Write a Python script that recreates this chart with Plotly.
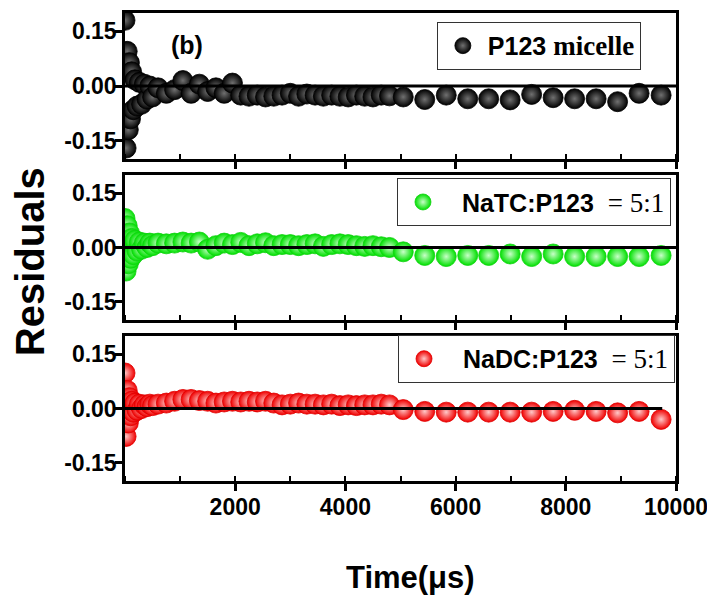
import plotly.graph_objects as go

# ---------------- data ----------------
time_us = [0, 20, 40, 60, 80, 100, 120, 150, 180, 220, 260, 300, 350, 400, 450, 500,
           600, 750, 900, 1050, 1200, 1350, 1500, 1650, 1800, 1950, 2100, 2250, 2400,
           2550, 2700, 2850, 3000, 3150, 3300, 3450, 3600, 3750, 3900, 4050, 4200, 4350,
           4500, 4650, 4800,
           5050, 5440, 5830, 6220, 6600, 6990, 7380, 7770, 8160, 8550, 8940, 9330, 9730]

res_p123 = [0.18, -0.17, 0.095, -0.12, 0.064, -0.09, 0.039, -0.065, 0.017, -0.055, 0.01,
            -0.05, 0.005, -0.036, 0.0, -0.03,
            -0.005, -0.02, -0.01, 0.015, -0.02, 0.005, -0.015, -0.005, -0.02, 0.008, -0.025,
            -0.028, -0.025, -0.03, -0.028, -0.025, -0.02, -0.028, -0.022, -0.025, -0.028,
            -0.025, -0.028, -0.03, -0.025, -0.028, -0.03, -0.025, -0.027,
            -0.030, -0.037, -0.025, -0.035, -0.035, -0.038, -0.023, -0.032, -0.035, -0.035,
            -0.043, -0.020, -0.025]

res_natc = [0.08, -0.065, 0.06, -0.045, 0.04, -0.03, 0.025, -0.02, 0.02, -0.01, 0.015,
            -0.005, 0.012, 0.0, 0.012, 0.005,
            0.012, 0.01, 0.012, 0.015, 0.012, 0.015, -0.005, 0.005, 0.012, 0.008, 0.014,
            0.005, 0.01, 0.013, 0.005, 0.008, 0.008, 0.005, 0.008, 0.01, 0.003, 0.008,
            0.01, 0.008, 0.005, 0.003, 0.005, 0.002, 0.0,
            -0.012, -0.022, -0.025, -0.022, -0.022, -0.018, -0.025, -0.018, -0.025, -0.025,
            -0.025, -0.025, -0.022]

res_nadc = [0.098, -0.077, 0.05, -0.04, 0.03, -0.02, 0.02, -0.01, 0.015, -0.005, 0.012,
            0.0, 0.01, 0.005, 0.012, 0.008,
            0.012, 0.015, 0.02, 0.025, 0.025, 0.022, 0.02, 0.015, 0.018, 0.02, 0.018,
            0.02, 0.018, 0.02, 0.015, 0.01, 0.012, 0.015, 0.012, 0.012, 0.01, 0.012,
            0.008, 0.01, 0.008, 0.01, 0.01, 0.012, 0.01,
            -0.003, -0.008, -0.010, -0.010, -0.010, -0.010, -0.010, -0.008, -0.005, -0.008,
            -0.012, -0.008, -0.030]

zero_x_full = [0, 10000]
zero_x_short = [0, 9750]
zero_y = [0, 0]

y_tick_vals = [-0.15, 0.0, 0.15]
y_tick_text = ["-0.15", "0.00", "0.15"]
x_tick_vals = [2000, 4000, 6000, 8000, 10000]
x_tick_text = ["2000", "4000", "6000", "8000", "10000"]

serif = "font-family:Liberation Serif;font-size:27px"
names = [
    f"<b>P123</b> <span style='{serif}'><b>micelle</b></span>",
    f"&nbsp;&nbsp;<b>NaTC:P123</b>&nbsp; <span style='{serif}'>= 5:1</span>",
    f"&nbsp;&nbsp;<b>NaDC:P123</b>&nbsp; <span style='{serif}'>= 5:1</span>",
]

# ---------------- figure ----------------
fig = go.Figure()

series = [
    (res_p123, "#000000", "#707070", "#000000", "x", "y", "legend", zero_x_full),
    (res_natc, "#00e000", "#c8ffc8", "#10d010", "x2", "y2", "legend2", zero_x_full),
    (res_nadc, "#f00000", "#ffc8c8", "#e00000", "x3", "y3", "legend3", zero_x_short),
]

for i, (vals, col, grad, edge, xa, ya, leg, zx) in enumerate(series):
    fig.add_trace(go.Scatter(
        x=time_us, y=vals, mode="markers", name=names[i],
        xaxis=xa, yaxis=ya, legend=leg,
        marker=dict(size=20, color=col,
                    gradient=dict(type="radial", color=grad),
                    line=dict(color=edge, width=0.8)),
    ))
    fig.add_trace(go.Scatter(
        x=zx, y=zero_y, mode="lines", showlegend=False,
        xaxis=xa, yaxis=ya, line=dict(color="black", width=3),
        hoverinfo="skip",
    ))

tick_font = dict(family="Liberation Sans, Arial, sans-serif", size=23, color="black", weight="bold")

def xaxis(show_labels, anchor):
    return dict(
        domain=[0, 1], range=[0, 10000], anchor=anchor, automargin=False,
        showline=True, linecolor="black", linewidth=2.5, mirror=True,
        ticks="outside", ticklen=7, tickwidth=2.5, tickcolor="black",
        tickvals=x_tick_vals, ticktext=x_tick_text, showticklabels=show_labels,
        tickfont=tick_font, showgrid=False, zeroline=False,
        ticklabeloverflow="allow", ticklabelstandoff=-3,
        minor=dict(ticks="inside", ticklen=5, tickwidth=1.5, tickcolor="black", dtick=1000),
    )

def yaxis(domain, anchor):
    return dict(
        domain=domain, range=[-0.2, 0.2], anchor=anchor, automargin=False,
        showline=True, linecolor="black", linewidth=2.5, mirror=True,
        ticks="outside", ticklen=7, tickwidth=2.5, tickcolor="black",
        tickvals=y_tick_vals, ticktext=y_tick_text,
        tickfont=tick_font, showgrid=False, zeroline=False,
        ticklabelstandoff=-6,
    )

legend_font = dict(family="Liberation Sans, Arial, sans-serif", size=25, color="black")

def legend(x, y):
    return dict(x=x, y=y, xanchor="left", yanchor="top",
                bgcolor="white", bordercolor="#333333", borderwidth=1,
                font=legend_font, itemwidth=40, tracegroupgap=0)

fig.update_layout(
    width=707, height=603,
    margin=dict(l=125, r=31, t=13, b=122, autoexpand=False),
    paper_bgcolor="white", plot_bgcolor="white",
    xaxis=xaxis(False, "y"),
    xaxis2=xaxis(False, "y2"),
    xaxis3=xaxis(True, "y3"),
    yaxis=yaxis([0.688, 1.0], "x"),
    yaxis2=yaxis([0.344, 0.654], "x2"),
    yaxis3=yaxis([0.0, 0.3098], "x3"),
    legend=legend(0.566, 0.981),
    legend2=legend(0.4936, 0.647),
    legend3=legend(0.4955, 0.312),
    annotations=[
        dict(text="<b>(b)</b>", xref="paper", yref="paper", x=0.1125, y=0.9316,
             showarrow=False, xanchor="center", yanchor="middle",
             font=dict(family="Liberation Sans, Arial", size=25, color="black")),
        dict(text="<b>Residuals</b>", xref="paper", yref="paper", x=-0.172, y=0.468,
             textangle=-90, showarrow=False, xanchor="center", yanchor="middle",
             font=dict(family="Liberation Sans, Arial", size=40, color="black")),
        dict(text="<b>Time(μs)</b>", xref="paper", yref="paper", x=0.519, y=-0.207,
             showarrow=False, xanchor="center", yanchor="middle",
             font=dict(family="Liberation Sans, Arial", size=31, color="black")),
    ],
)

fig.write_html("out.html")
